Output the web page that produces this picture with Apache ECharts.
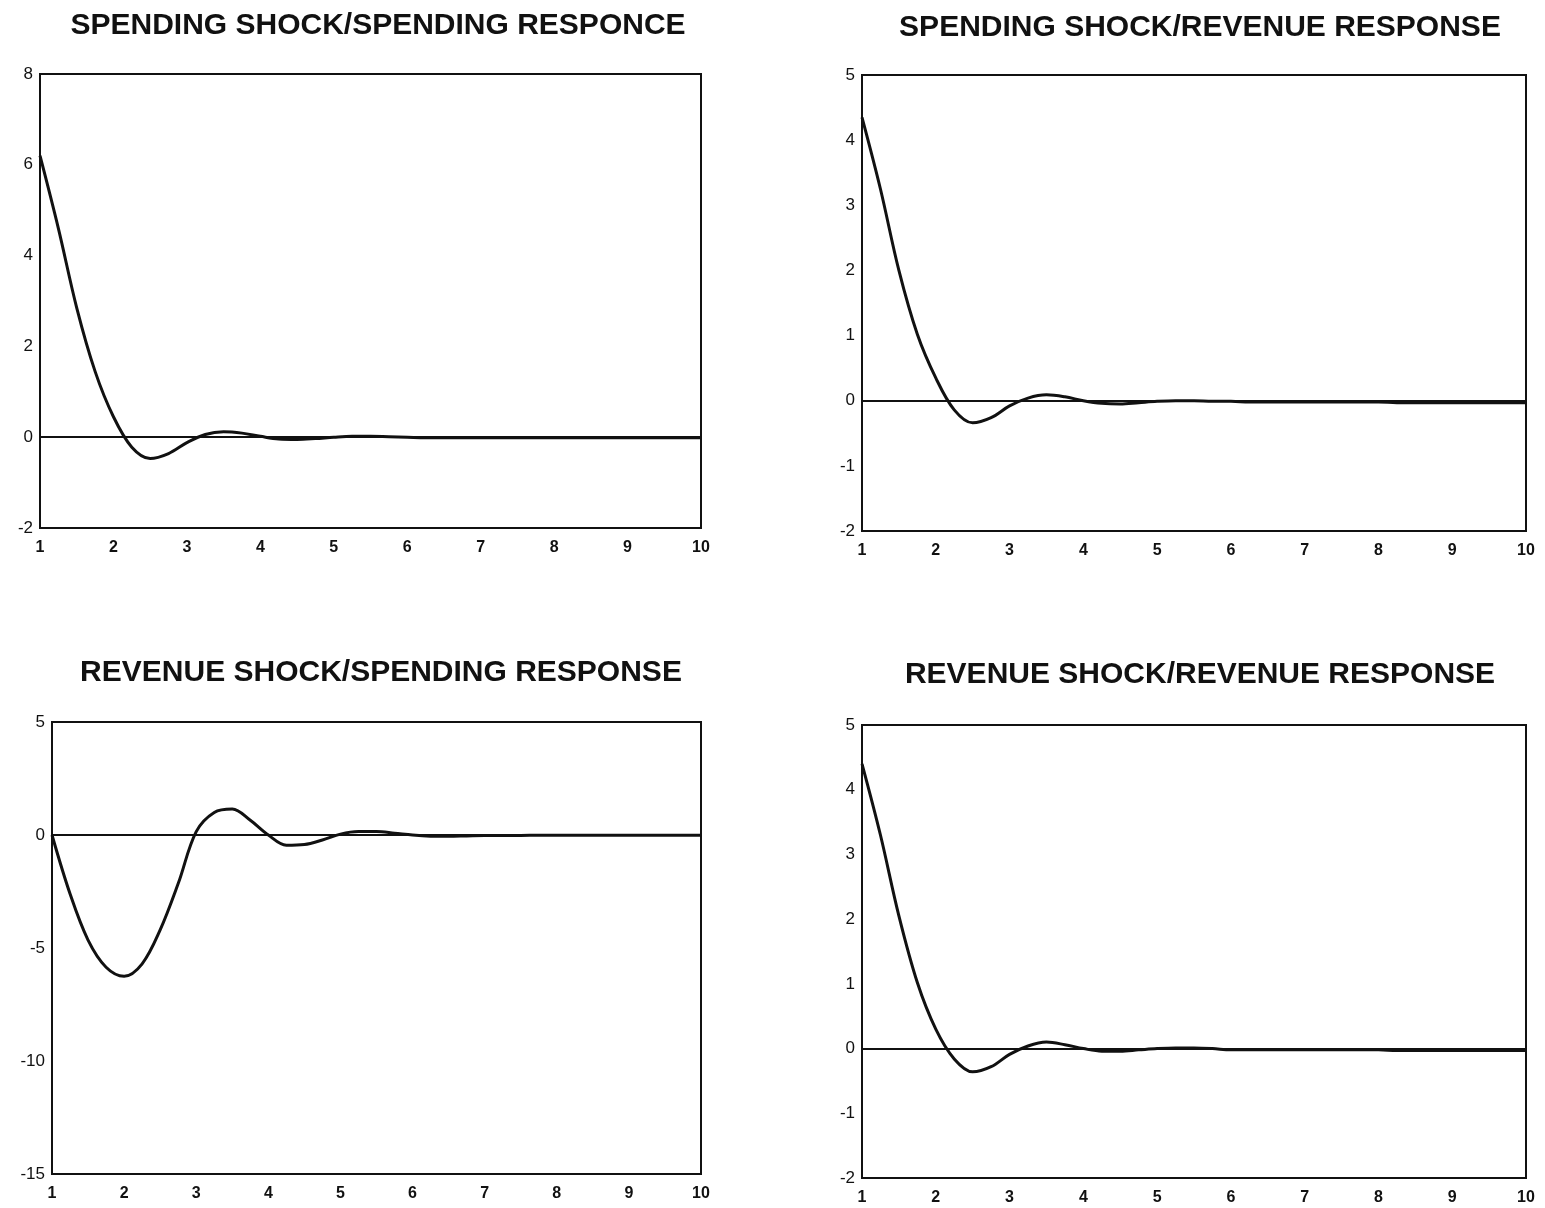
<!DOCTYPE html>
<html>
<head>
<meta charset="utf-8">
<script src="https://cdn.jsdelivr.net/npm/echarts@6/dist/echarts.min.js"></script>
<style>
html,body{margin:0;padding:0;background:#fff;}
#chart{width:1545px;height:1208px;}
</style>
</head>
<body>
<div id="chart"></div>
<script>
const titles = [
  'SPENDING SHOCK/SPENDING RESPONCE',
  'SPENDING SHOCK/REVENUE RESPONSE',
  'REVENUE SHOCK/SPENDING RESPONSE',
  'REVENUE SHOCK/REVENUE RESPONSE'
];
const horizon = [1,1.25,1.5,1.75,2,2.25,2.5,2.75,3,3.25,3.5,3.75,4,4.25,4.5,4.75,5,5.25,5.5,5.75,6,6.25,6.5,6.75,7,7.25,7.5,7.75,8,8.25,8.5,8.75,9,9.25,9.5,9.75,10];
const spendingSpending = [6.2,4.6,2.85,1.45,0.45,-0.22,-0.47,-0.36,-0.12,0.06,0.12,0.09,0.02,-0.04,-0.05,-0.03,0,0.02,0.02,0.01,0,-0.01,-0.01,-0.01,-0.01,-0.01,-0.01,-0.01,-0.01,-0.01,-0.01,-0.01,-0.01,-0.01,-0.01,-0.01,-0.01];
const spendingRevenue = [4.35,3.25,2.0,1.02,0.35,-0.14,-0.34,-0.26,-0.08,0.04,0.09,0.06,0,-0.04,-0.05,-0.03,-0.01,0,0,-0.01,-0.01,-0.02,-0.02,-0.02,-0.02,-0.02,-0.02,-0.02,-0.02,-0.03,-0.03,-0.03,-0.03,-0.03,-0.03,-0.03,-0.03];
const revenueSpending = [0,-2.6,-4.65,-5.85,-6.25,-5.7,-4.2,-2.15,0.15,1.0,1.15,0.65,0,-0.45,-0.42,-0.22,0.04,0.15,0.15,0.08,0,-0.05,-0.06,-0.04,-0.02,-0.02,-0.02,-0.01,-0.01,-0.01,-0.01,-0.01,-0.01,-0.01,-0.01,-0.01,-0.01];
const revenueRevenue = [4.4,3.3,2.05,1.02,0.3,-0.16,-0.36,-0.28,-0.09,0.04,0.1,0.06,0,-0.04,-0.04,-0.02,0,0.01,0.01,0,-0.02,-0.02,-0.02,-0.02,-0.02,-0.02,-0.02,-0.02,-0.02,-0.03,-0.03,-0.03,-0.03,-0.03,-0.03,-0.03,-0.03];
const yMin = [-2,-2,-15,-2];
const yMax = [8,5,5,5];
const yStep = [2,1,5,1];
const xTicks = [1,10,1];

const seriesData = [spendingSpending, spendingRevenue, revenueSpending, revenueRevenue];

const grids = [
  {left:40, top:74, width:661, height:454},
  {left:862, top:75, width:664, height:456},
  {left:52, top:722, width:649, height:452},
  {left:862, top:725, width:664, height:453}
];
const titlePos = [
  {left:373, top:6},
  {left:1195, top:8},
  {left:376, top:653},
  {left:1195, top:655}
];

const font = 'Liberation Sans, Arial, Helvetica, sans-serif';
const chart = echarts.init(document.getElementById('chart'), null, {renderer:'canvas'});

const option = {
  backgroundColor:'#fff',
  animation:false,
  title: titles.map((t,i)=>({
    text:t, left:titlePos[i].left, top:titlePos[i].top, textAlign:'center',
    textStyle:{fontFamily:font, fontWeight:'bold', fontSize:30, color:'#111'}
  })),
  grid: grids.map(g=>Object.assign({show:true, borderColor:'#111', borderWidth:2, backgroundColor:'transparent', containLabel:false}, g)),
  xAxis: grids.map((g,i)=>({
    type:'value', gridIndex:i, min:xTicks[0], max:xTicks[1], interval:xTicks[2],
    axisLine:{show:false}, axisTick:{show:false}, splitLine:{show:false},
    axisLabel:{color:'#111', fontFamily:font, fontSize:16, fontWeight:'bold', margin:12}
  })),
  yAxis: grids.map((g,i)=>({
    type:'value', gridIndex:i, min:yMin[i], max:yMax[i], interval:yStep[i],
    axisLine:{show:false}, axisTick:{show:false}, splitLine:{show:false},
    axisLabel:{color:'#111', fontFamily:font, fontSize:17, margin:7}
  })),
  series: seriesData.map((d,i)=>({
    type:'line', xAxisIndex:i, yAxisIndex:i,
    data: horizon.map((h,k)=>[h,d[k]]),
    showSymbol:false, smooth:0.35,
    lineStyle:{color:'#111', width:3},
    markLine:{
      silent:true, symbol:['none','none'], label:{show:false},
      lineStyle:{color:'#111', width:2, type:'solid'},
      data:[{yAxis:0}]
    }
  }))
};
chart.setOption(option);
</script>
</body>
</html>
